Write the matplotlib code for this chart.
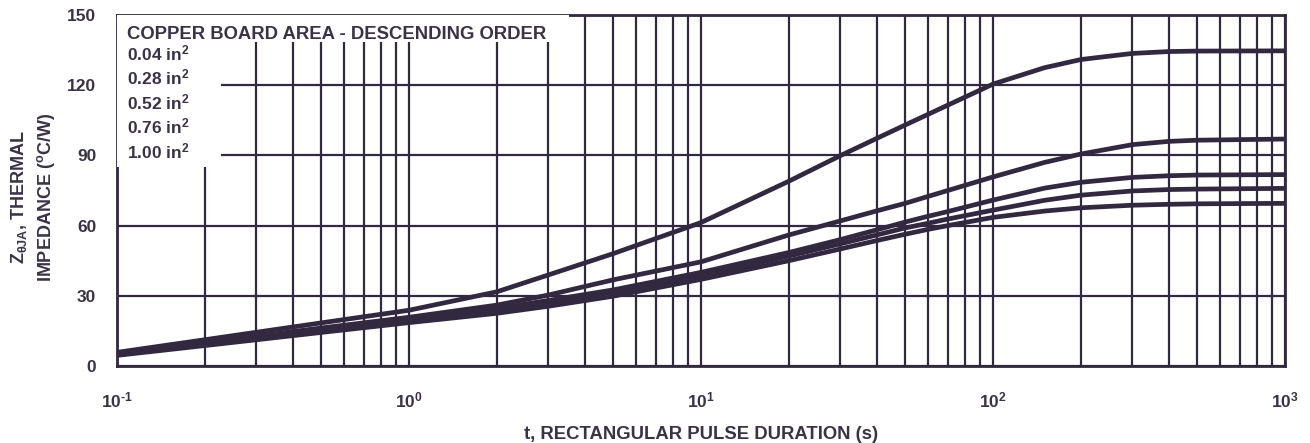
import numpy as np
import matplotlib
matplotlib.use("Agg")
import matplotlib.pyplot as plt
from matplotlib.patches import Rectangle

plt.rcParams['font.family'] = ['Liberation Sans', 'DejaVu Sans']
plt.rcParams['font.weight'] = 'bold'
plt.rcParams['axes.labelweight'] = 'bold'
plt.rcParams['axes.unicode_minus'] = False
plt.rcParams['mathtext.fontset'] = 'custom'
plt.rcParams['mathtext.rm'] = 'Liberation Sans:bold'
plt.rcParams['mathtext.bf'] = 'Liberation Sans:bold'
plt.rcParams['mathtext.it'] = 'Liberation Sans:bold'

INK = '#32283f'
TXT = '#3a3246'

# pulse duration (s)
t = [0.1, 0.2, 0.5, 1, 2, 3, 5, 10, 20, 30, 40, 50, 60, 70, 100, 150, 200, 300, 400, 500, 1000]

# thermal impedance (C/W) per copper area
z_004 = [5.8, 11.2, 18.4, 23.8, 31.7, 38.9, 48.0, 61.3, 79.0, 89.9, 97.3, 103.0, 107.6, 111.5, 120.5, 127.5, 131.0, 133.6, 134.4, 134.6, 134.7]
z_028 = [5.4, 10.0, 16.2, 20.8, 26.0, 30.3, 36.8, 44.5, 56.0, 62.0, 66.3, 69.5, 72.5, 75.0, 80.8, 87.0, 90.6, 94.6, 96.0, 96.5, 97.0]
z_052 = [5.1, 9.6, 15.5, 20.0, 24.5, 28.0, 32.5, 40.0, 48.5, 54.0, 58.2, 61.5, 64.0, 66.0, 70.9, 76.0, 78.5, 80.6, 81.3, 81.6, 81.8]
z_076 = [4.8, 9.1, 14.9, 19.2, 23.5, 26.7, 31.0, 38.5, 47.0, 52.2, 56.0, 59.0, 61.0, 62.8, 66.6, 70.8, 73.0, 74.8, 75.4, 75.6, 75.9]
z_100 = [4.5, 8.7, 14.3, 18.5, 22.5, 25.5, 29.8, 37.0, 45.0, 50.0, 53.6, 56.3, 58.4, 60.0, 63.5, 66.2, 67.6, 68.7, 69.1, 69.3, 69.5]

areas = ['0.04', '0.28', '0.52', '0.76', '1.00']
series = [z_004, z_028, z_052, z_076, z_100]

yticks = [0, 30, 60, 90, 120, 150]
xticks = [0.1, 1, 10, 100, 1000]
xticklabels = [r'$10^{\text{-1}}$', r'$10^{0}$', r'$10^{1}$', r'$10^{2}$', r'$10^{3}$']

fig = plt.figure(figsize=(13.1, 4.43), dpi=100)
ax = fig.add_axes([0.0893, 0.174, 0.8917, 0.792])

for z in series:
    ax.plot(t, z, color=INK, lw=3.4, solid_joinstyle='round', zorder=4)

ax.set_xscale('log')
ax.set_xlim(0.1, 1000)
ax.set_ylim(0, 150)
ax.set_yticks(yticks)
ax.set_xticks(xticks)
ax.set_xticklabels(xticklabels)
ax.grid(True, which='both', color=INK, lw=1.6)
ax.tick_params(which='both', length=0, labelsize=12.5, colors=TXT)
ax.tick_params(axis='y', pad=15)
ax.tick_params(axis='x', pad=18)
for s in ax.spines.values():
    s.set_color(INK)
    s.set_linewidth(2)

# white boxes behind the legend text
ax.add_patch(Rectangle((0, 0.923), 0.387, 0.077, transform=ax.transAxes,
                       facecolor='white', edgecolor='none', zorder=3))
ax.add_patch(Rectangle((0, 0.567), 0.089, 0.36, transform=ax.transAxes,
                       facecolor='white', edgecolor='none', zorder=3))

ax.text(0.0086, 0.931, 'COPPER BOARD AREA - DESCENDING ORDER', transform=ax.transAxes,
        fontsize=13.3, color=TXT, va='baseline', zorder=5)
for i, a in enumerate(areas):
    ax.text(0.0086, 0.871 - i * 0.0698, a + r' in$^{2}$', transform=ax.transAxes,
            fontsize=12.5, color=TXT, va='baseline', zorder=5)

ax.set_xlabel('t, RECTANGULAR PULSE DURATION (s)', fontsize=13.3, color=TXT,
              fontweight='bold', labelpad=11)
fig.text(0.025, 0.555, 'Z$_{\\theta JA}$, THERMAL\nIMPEDANCE ($^{o}$C/W)', rotation=90,
         ha='center', va='center', fontsize=13, color=TXT, linespacing=1.35,
         multialignment='center')

fig.savefig('out.png', dpi=100)
